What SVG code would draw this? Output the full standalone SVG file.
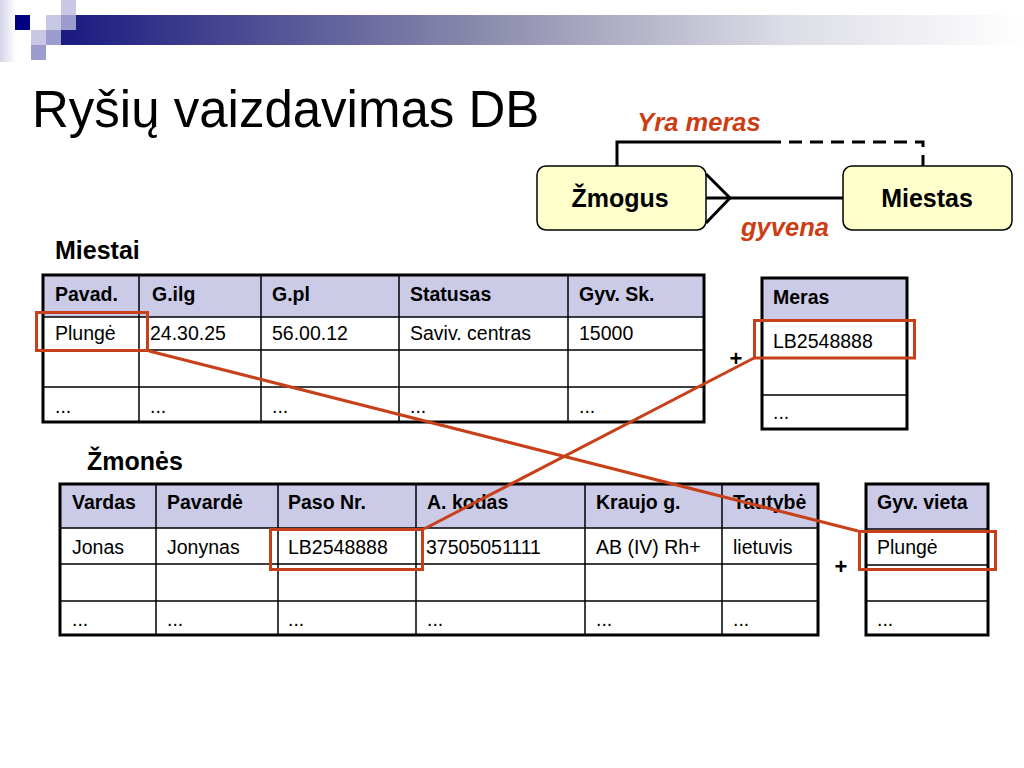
<svg xmlns="http://www.w3.org/2000/svg" width="1024" height="768" viewBox="0 0 1024 768">
<defs>
<linearGradient id="bar" x1="0" y1="0" x2="1" y2="0">
<stop offset="0" stop-color="#1a1a80"/>
<stop offset="0.45" stop-color="#8e8eae"/>
<stop offset="0.75" stop-color="#dcdce6"/>
<stop offset="1" stop-color="#ffffff"/>
</linearGradient>
<linearGradient id="edge" x1="0" y1="0" x2="1" y2="0">
<stop offset="0" stop-color="#d4d4ea"/>
<stop offset="1" stop-color="#ffffff"/>
</linearGradient>
<style>
text{font-family:"Liberation Sans",Arial,sans-serif;fill:#000}
.title{font-size:51px}
.lbl{font-size:25px;font-weight:bold}
.ent{font-size:25px;font-weight:bold}
.rel{font-size:25.5px;font-weight:bold;font-style:italic;fill:#cc3d14}
.th{font-size:19.5px;font-weight:bold}
.td{font-size:19.5px}
.plus{font-size:22px;font-weight:bold}
.hdr{fill:#cbcbe8}
.outer{fill:none;stroke:#000;stroke-width:3}
.grid{stroke:#000;stroke-width:1.5;fill:none}
.hl{fill:none;stroke:#c8401a;stroke-width:3}
.box{fill:#ffffcc;stroke:#000;stroke-width:1.5}
.er{stroke:#000;stroke-width:3;fill:none}
</style>
</defs>

<g id="header-deco">
<rect x="0" y="0" width="16" height="62" fill="url(#edge)"/>
<rect x="61" y="15" width="963" height="30" fill="url(#bar)"/>
<rect x="15" y="15" width="15" height="15" fill="#000080"/>
<rect x="46" y="15" width="15" height="15" fill="#c8c8e4"/>
<rect x="61" y="0" width="15" height="15" fill="#c8c8e4"/>
<rect x="61" y="15" width="15" height="15" fill="#9c9cce"/>
<rect x="31" y="30" width="15" height="15" fill="#c8c8e4"/>
<rect x="46" y="30" width="15" height="15" fill="#9c9cce"/>
<rect x="31" y="45" width="15" height="15" fill="#9c9cce"/>
</g>

<text class="title" x="32" y="127">Ryšių vaizdavimas DB</text>

<g id="rel-labels">
<text class="rel" x="699" y="131" text-anchor="middle">Yra meras</text>
<text class="rel" x="785" y="236" text-anchor="middle">gyvena</text>
</g>

<g id="zmogus">
<rect class="box" x="537" y="166" width="169" height="64" rx="9"/>
<text class="ent" x="620" y="207" text-anchor="middle">Žmogus</text>
</g>
<g id="miestas">
<rect class="box" x="843" y="166" width="169" height="64" rx="9"/>
<text class="ent" x="927" y="207" text-anchor="middle">Miestas</text>
</g>

<g id="miestai-table">
<text class="lbl" x="55" y="259">Miestai</text>
<rect class="hdr" x="43" y="275" width="661" height="42"/>
<path class="grid" d="M43,317 H704 M43,350 H704 M43,387 H704 M139,275 V422 M261,275 V422 M399,275 V422 M568,275 V422"/>
<rect class="outer" x="43" y="275" width="661" height="147"/>
<text class="th" x="55" y="301">Pavad.</text>
<text class="th" x="152" y="301">G.ilg</text>
<text class="th" x="272" y="301">G.pl</text>
<text class="th" x="410" y="301">Statusas</text>
<text class="th" x="579" y="301">Gyv. Sk.</text>
<text class="td" x="55" y="340">Plungė</text>
<text class="td" x="150" y="340">24.30.25</text>
<text class="td" x="272" y="340">56.00.12</text>
<text class="td" x="410" y="340">Saviv. centras</text>
<text class="td" x="579" y="340">15000</text>
<text class="td" x="55" y="413">...</text>
<text class="td" x="150" y="413">...</text>
<text class="td" x="272" y="413">...</text>
<text class="td" x="410" y="413">...</text>
<text class="td" x="579" y="413">...</text>
<rect class="hl" x="36.5" y="312.5" width="111" height="38"/>
</g>

<g id="meras-table">
<rect class="hdr" x="762" y="278" width="145" height="42"/>
<path class="grid" d="M762,320 H907 M762,358 H907 M762,395 H907"/>
<rect class="outer" x="762" y="278" width="145" height="151"/>
<text class="th" x="773" y="304">Meras</text>
<text class="td" x="773" y="348">LB2548888</text>
<text class="td" x="773" y="419">...</text>
<rect class="hl" x="754.5" y="320.5" width="160" height="37.5"/>
<text class="plus" x="736" y="366" text-anchor="middle">+</text>
</g>

<g id="zmones-table">
<text class="lbl" x="87" y="470">Žmonės</text>
<rect class="hdr" x="60" y="484" width="758" height="44"/>
<path class="grid" d="M60,528 H818 M60,564 H818 M60,601 H818 M156,484 V635 M278,484 V635 M416,484 V635 M585,484 V635 M722,484 V635"/>
<rect class="outer" x="60" y="484" width="758" height="151"/>
<text class="th" x="72" y="509">Vardas</text>
<text class="th" x="167" y="509">Pavardė</text>
<text class="th" x="288" y="509">Paso Nr.</text>
<text class="th" x="427" y="509">A. kodas</text>
<text class="th" x="596" y="509">Kraujo g.</text>
<text class="th" x="733" y="509">Tautybė</text>
<text class="td" x="72" y="554">Jonas</text>
<text class="td" x="167" y="554">Jonynas</text>
<text class="td" x="288" y="554">LB2548888</text>
<text class="td" x="426" y="554">37505051111</text>
<text class="td" x="596" y="554">AB (IV) Rh+</text>
<text class="td" x="733" y="554">lietuvis</text>
<text class="td" x="72" y="626">...</text>
<text class="td" x="167" y="626">...</text>
<text class="td" x="288" y="626">...</text>
<text class="td" x="427" y="626">...</text>
<text class="td" x="596" y="626">...</text>
<text class="td" x="733" y="626">...</text>
<rect class="hl" x="270.5" y="529.5" width="152" height="40"/>
</g>

<g id="gyv-table">
<rect class="hdr" x="866" y="484" width="122" height="45"/>
<path class="grid" d="M866,529 H988 M866,565 H988 M866,601 H988"/>
<rect class="outer" x="866" y="484" width="122" height="151"/>
<text class="th" x="877" y="509">Gyv. vieta</text>
<text class="td" x="877" y="554">Plungė</text>
<text class="td" x="877" y="626">...</text>
<rect class="hl" x="859.5" y="531.5" width="136" height="38"/>
<text class="plus" x="841" y="574" text-anchor="middle">+</text>
</g>

<g id="connectors">
<path class="er" d="M617,166 V142 H768"/>
<path class="er" d="M768,142 H923 V166" stroke-dasharray="13,8"/>
<path class="er" d="M706,198 H843"/>
<path class="er" d="M706,174 L730,198 L706,223"/>
<line class="hl" x1="149" y1="351" x2="858" y2="531"/>
<line class="hl" x1="424" y1="529" x2="754" y2="358"/>
</g>
</svg>
